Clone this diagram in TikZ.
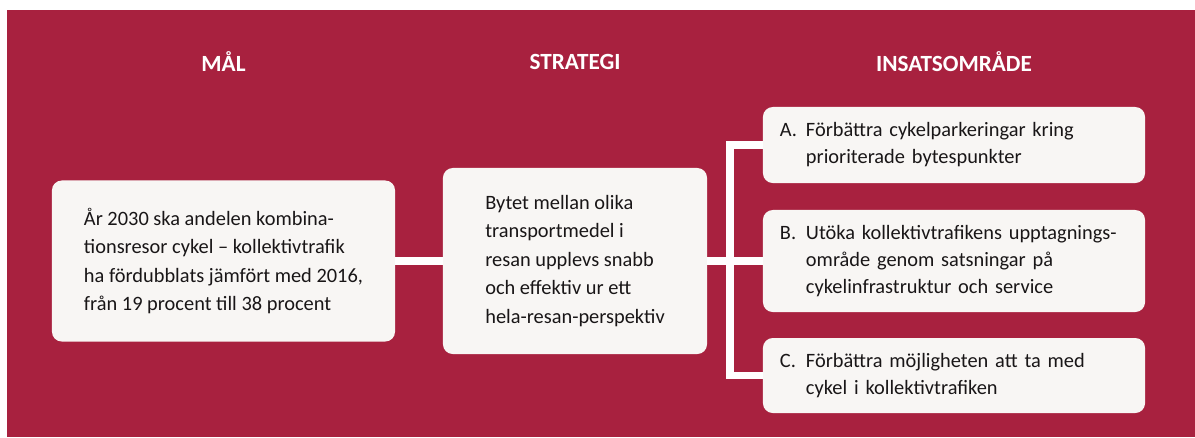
\documentclass[tikz,border=0pt]{standalone}
\usepackage{fontspec}
\setmainfont{Carlito}
\usetikzlibrary{positioning}
\definecolor{bgred}{RGB}{168,33,63}
\definecolor{boxwhite}{RGB}{248,246,244}
\definecolor{textdark}{RGB}{25,22,23}
\tikzset{
	box/.style={fill=boxwhite,rounded corners=7pt,text=textdark,align=left,inner sep=0pt,
		font=\fontsize{14.5}{20.3}\selectfont},
	insbox/.style={box,text width=8.7cm,inner xsep=.425cm,minimum width=9.55cm,
		font=\fontsize{14.5}{19.2}\selectfont},
	head/.style={text=white,font=\bfseries\fontsize{16.5}{19}\selectfont},
	conn/.style={white,line width=5pt},
}
\newcommand{\punkt}[1]{\makebox[.65cm][l]{#1}}
\newcommand{\indrag}{\hspace*{.65cm}}

\begin{document}
\begin{tikzpicture}[x=.025cm,y=-.025cm]
	\useasboundingbox (0,0) rectangle (1195,437);
	%bakgrund
	\fill[bgred] (7,10) rectangle (1195,437);
	%mal och strategi
	\node[box,minimum width=8.575cm,minimum height=4.025cm] (mal) at (223.5,261)
		{År 2030 ska andelen kombina-\\tionsresor cykel -- kollektivtrafik\\ha fördubblats jämfört med 2016,\\från 19 procent till 38 procent};
	\node[box,minimum width=6.6cm,minimum height=4.65cm] (strategi) at (575,261)
		{Bytet mellan olika\\transportmedel i\\resan upplevs snabb\\och effektiv ur ett\\hela-resan-perspektiv};
	%insatsomraden
	\node[insbox,minimum height=1.9cm] (insA) at (954,145)
		{\punkt{A.}Förbättra cykelparkeringar kring\\\indrag prioriterade bytespunkter};
	\node[insbox,minimum height=2.55cm] (insB) at (954,261)
		{\punkt{B.}Utöka kollektivtrafikens upptagnings-\\\indrag område genom satsningar på\\\indrag cykelinfrastruktur och service};
	\node[insbox,minimum height=1.875cm] (insC) at (954,375.5)
		{\punkt{C.}Förbättra möjligheten att ta med\\\indrag cykel i kollektivtrafiken};
	%rubriker
	\node[head] (malHead) at (mal |- 0,62) {MÅL};
	\node[head] (stratHead) at (strategi |- 0,62) {STRATEGI};
	\node[head] (insHead) at (insB |- 0,62) {INSATSOMRÅDE};
	%linjer
	\coordinate (bus) at (730,261);
	\draw[conn] (mal.east) -- (strategi.west);
	\draw[conn] (strategi.east) -- (insB.west);
	\draw[conn] (insA.west) -| (bus) |- (insC.west);
\end{tikzpicture}
\end{document}
